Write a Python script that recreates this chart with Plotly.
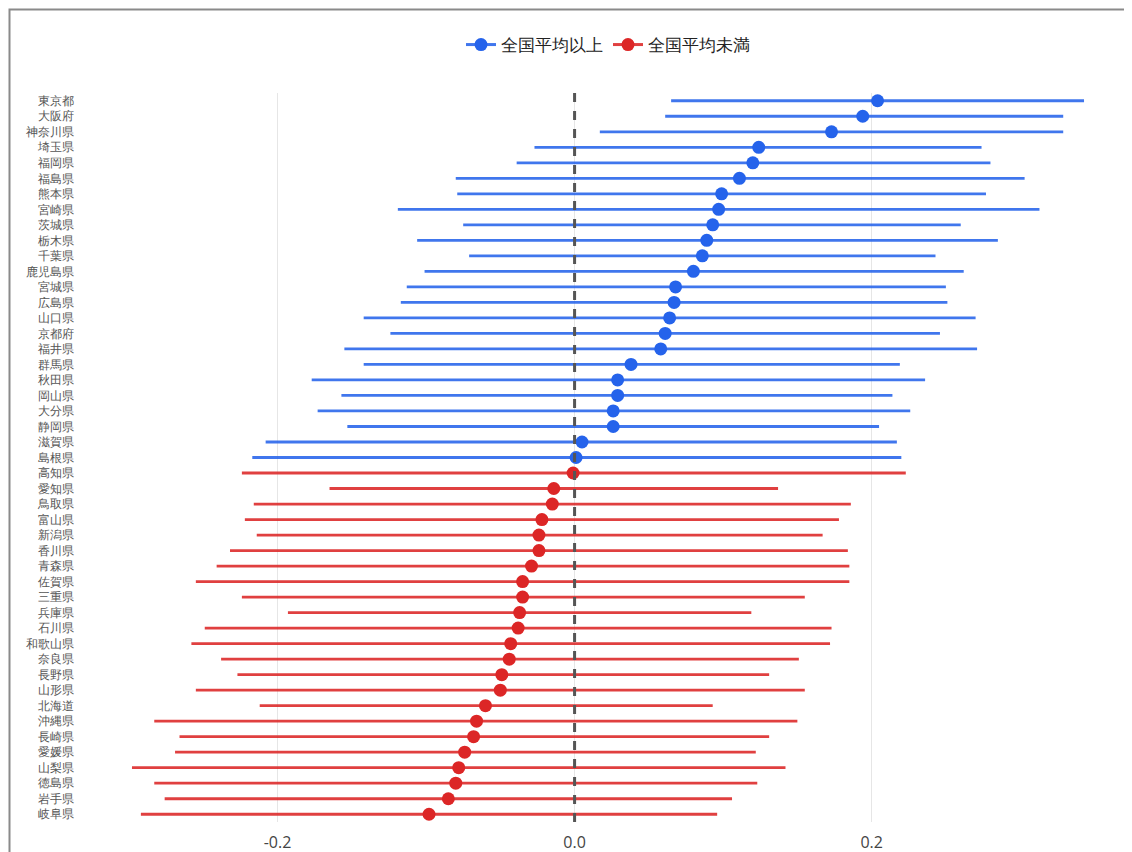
import plotly.graph_objects as go

# ---- data ----
above_names = ["東京都", "大阪府", "神奈川県", "埼玉県", "福岡県", "福島県", "熊本県", "宮崎県",
               "茨城県", "栃木県", "千葉県", "鹿児島県", "宮城県", "広島県", "山口県", "京都府",
               "福井県", "群馬県", "秋田県", "岡山県", "大分県", "静岡県", "滋賀県", "島根県"]
above_est = [0.204, 0.194, 0.173, 0.124, 0.120, 0.111, 0.099, 0.097,
             0.093, 0.089, 0.086, 0.080, 0.068, 0.067, 0.064, 0.061,
             0.058, 0.038, 0.029, 0.029, 0.026, 0.026, 0.005, 0.001]
above_lo = [0.065, 0.061, 0.017, -0.027, -0.039, -0.080, -0.079, -0.119,
            -0.075, -0.106, -0.071, -0.101, -0.113, -0.117, -0.142, -0.124,
            -0.155, -0.142, -0.177, -0.157, -0.173, -0.153, -0.208, -0.217]
above_hi = [0.343, 0.329, 0.329, 0.274, 0.280, 0.303, 0.277, 0.313,
            0.260, 0.285, 0.243, 0.262, 0.250, 0.251, 0.270, 0.246,
            0.271, 0.219, 0.236, 0.214, 0.226, 0.205, 0.217, 0.220]

below_names = ["高知県", "愛知県", "鳥取県", "富山県", "新潟県", "香川県", "青森県", "佐賀県",
               "三重県", "兵庫県", "石川県", "和歌山県", "奈良県", "長野県", "山形県", "北海道",
               "沖縄県", "長崎県", "愛媛県", "山梨県", "徳島県", "岩手県", "岐阜県"]
below_est = [-0.001, -0.014, -0.015, -0.022, -0.024, -0.024, -0.029, -0.035,
             -0.035, -0.037, -0.038, -0.043, -0.044, -0.049, -0.050, -0.060,
             -0.066, -0.068, -0.074, -0.078, -0.080, -0.085, -0.098]
below_lo = [-0.224, -0.165, -0.216, -0.222, -0.214, -0.232, -0.241, -0.255,
            -0.224, -0.193, -0.249, -0.258, -0.238, -0.227, -0.255, -0.212,
            -0.283, -0.266, -0.269, -0.298, -0.283, -0.276, -0.292]
below_hi = [0.223, 0.137, 0.186, 0.178, 0.167, 0.184, 0.185, 0.185,
            0.155, 0.119, 0.173, 0.172, 0.151, 0.131, 0.155, 0.093,
            0.150, 0.131, 0.122, 0.142, 0.123, 0.106, 0.096]

BLUE = "#2563eb"
RED = "#dc2626"

W, H = 1200, 900
ML, MR, MT, MB = 72, 72, 85, 86
PW, PH = W - ML - MR, H - MT - MB

all_names = above_names + below_names

fig = go.Figure()


def add_group(names, est, lo, hi, color, err_color, label):
    fig.add_trace(go.Scatter(
        x=est, y=names, mode="markers", name=label, legendgroup=label, showlegend=False,
        marker=dict(color=color, size=13),
        error_x=dict(type="data", symmetric=False,
                     array=[h - e for h, e in zip(hi, est)],
                     arrayminus=[e - l for e, l in zip(est, lo)],
                     width=0, thickness=2.8, color=err_color),
    ))
    # legend entry (line + marker symbol)
    fig.add_trace(go.Scatter(
        x=[None], y=[None], mode="lines+markers", name=label, legendgroup=label,
        marker=dict(color=color, size=13), line=dict(color=err_color, width=3),
    ))


add_group(above_names, above_est, above_lo, above_hi, BLUE, "rgba(37,99,235,0.88)", "全国平均以上")
add_group(below_names, below_est, below_lo, below_hi, RED, "rgba(220,38,38,0.88)", "全国平均未満")

fig.add_shape(type="line", xref="x", yref="paper", x0=0, x1=0, y0=0, y1=1,
              line=dict(color="#555555", width=3, dash="dash"), layer="above")

# figure border
fig.add_shape(type="rect", xref="paper", yref="paper",
              x0=(-ML + 1.5) / PW, x1=1 + (MR - 1.5) / PW,
              y0=(-MB + 1.5) / PH, y1=1 + (MT - 1.5) / PH,
              line=dict(color="#8a8a8a", width=2), layer="above")

fig.update_layout(
    width=W, height=H,
    margin=dict(l=ML, r=MR, t=MT, b=MB),
    paper_bgcolor="white", plot_bgcolor="white",
    font=dict(color="#444444"),
    showlegend=True,
    legend=dict(orientation="h", x=0.5, xanchor="center", y=1 + 48 / PH, yanchor="middle",
                font=dict(size=17, color="#222222")),
    xaxis=dict(range=[-0.333, 0.378], tickvals=[-0.2, 0.0, 0.2], ticktext=["-0.2", "0.0", "0.2"],
               showgrid=True, gridcolor="#e6e6e6", gridwidth=1, zeroline=False,
               showline=False, ticks="outside", ticklen=6, tickcolor="rgba(0,0,0,0)",
               tickfont=dict(size=16, color="#444444")),
    yaxis=dict(type="category", categoryorder="array", categoryarray=all_names,
               range=[len(all_names) - 0.5, -0.5], tickmode="array", tickvals=all_names,
               showgrid=False, zeroline=False, showline=False,
               ticks="outside", ticklen=3, tickcolor="rgba(0,0,0,0)",
               tickfont=dict(size=12, color="#555555")),
)

fig.write_html("out.html")
